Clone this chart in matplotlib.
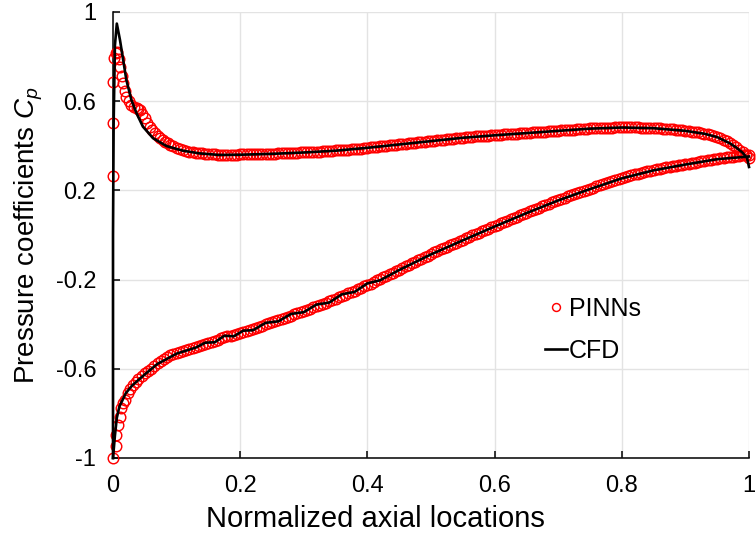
import matplotlib
matplotlib.use("Agg")
import matplotlib.pyplot as plt
import numpy as np

plt.rcParams['font.family'] = ['Liberation Sans', 'DejaVu Sans']
plt.rcParams['mathtext.fontset'] = 'custom'
plt.rcParams['mathtext.rm'] = 'Liberation Sans'
plt.rcParams['mathtext.it'] = 'Liberation Sans:italic'

# ---------------- data ----------------
# PINNs, suction side: leading-edge cluster
pinn_up_le_x = [0.0, 0.0, 0.0, 0.001, 0.004, 0.006, 0.009, 0.011, 0.014, 0.016, 0.019,
                0.021, 0.025, 0.029, 0.033, 0.037, 0.040, 0.042, 0.046, 0.050, 0.054,
                0.058, 0.062, 0.066, 0.070, 0.074, 0.078, 0.082, 0.086, 0.090, 0.095]
pinn_up_le_cp = [0.266, 0.501, 0.687, 0.792, 0.815, 0.822, 0.790, 0.755, 0.715, 0.680, 0.645,
                 0.620, 0.600, 0.583, 0.575, 0.568, 0.564, 0.561, 0.542, 0.523, 0.504,
                 0.486, 0.470, 0.456, 0.445, 0.435, 0.426, 0.418, 0.411, 0.405, 0.397]
# PINNs, suction side: x = 0.100 ... 1.000 every 0.005
pinn_up_cp = [0.390, 0.385, 0.380, 0.377, 0.374, 0.371, 0.369, 0.367, 0.366, 0.364,
              0.363, 0.362, 0.361, 0.360, 0.360, 0.359, 0.359, 0.359, 0.359, 0.360,
              0.361, 0.361, 0.362, 0.362, 0.362, 0.363, 0.363, 0.363, 0.364, 0.364,
              0.365, 0.365, 0.366, 0.366, 0.367, 0.367, 0.368, 0.368, 0.369, 0.370,
              0.371, 0.371, 0.372, 0.373, 0.374, 0.374, 0.375, 0.376, 0.377, 0.378,
              0.379, 0.380, 0.381, 0.382, 0.383, 0.384, 0.385, 0.386, 0.387, 0.389,
              0.392, 0.393, 0.395, 0.396, 0.398, 0.399, 0.401, 0.402, 0.404, 0.405,
              0.407, 0.408, 0.410, 0.411, 0.413, 0.414, 0.416, 0.417, 0.419, 0.420,
              0.422, 0.423, 0.425, 0.426, 0.428, 0.429, 0.431, 0.432, 0.434, 0.435,
              0.437, 0.438, 0.440, 0.441, 0.442, 0.443, 0.444, 0.445, 0.446, 0.447,
              0.448, 0.449, 0.450, 0.451, 0.452, 0.453, 0.454, 0.455, 0.456, 0.457,
              0.458, 0.459, 0.460, 0.461, 0.462, 0.463, 0.464, 0.465, 0.466, 0.467,
              0.468, 0.469, 0.470, 0.471, 0.472, 0.473, 0.474, 0.475, 0.476, 0.477,
              0.478, 0.479, 0.480, 0.480, 0.481, 0.481, 0.482, 0.482, 0.483, 0.483,
              0.483, 0.483, 0.483, 0.483, 0.483, 0.483, 0.482, 0.482, 0.481, 0.481,
              0.480, 0.479, 0.478, 0.477, 0.476, 0.475, 0.474, 0.472, 0.471, 0.470,
              0.468, 0.466, 0.464, 0.462, 0.460, 0.458, 0.455, 0.452, 0.448, 0.444,
              0.440, 0.434, 0.428, 0.420, 0.412, 0.403, 0.393, 0.382, 0.370, 0.358,
              0.345]

# PINNs, pressure side: leading-edge cluster
pinn_lo_le_x = [0.0, 0.004, 0.005, 0.008, 0.011, 0.013, 0.016, 0.019, 0.023, 0.027,
                0.031, 0.036, 0.040, 0.045, 0.050, 0.055]
pinn_lo_le_cp = [-1.0, -0.945, -0.897, -0.852, -0.815, -0.777, -0.755, -0.740, -0.710, -0.690,
                 -0.673, -0.658, -0.645, -0.632, -0.620, -0.610]
# PINNs, pressure side: x = 0.060 ... 1.000 every 0.005
pinn_lo_cp = [-0.600, -0.587, -0.575, -0.565, -0.556, -0.548, -0.540, -0.535,
              -0.530, -0.525, -0.520, -0.515, -0.510, -0.506, -0.503, -0.499, -0.495, -0.490,
              -0.485, -0.480, -0.475, -0.469, -0.463, -0.459, -0.455, -0.451, -0.448, -0.444,
              -0.441, -0.436, -0.431, -0.426, -0.421, -0.416, -0.411, -0.406, -0.401, -0.396,
              -0.391, -0.386, -0.381, -0.376, -0.371, -0.366, -0.361, -0.356, -0.351, -0.346,
              -0.340, -0.335, -0.330, -0.325, -0.319, -0.314, -0.308, -0.303, -0.297, -0.291,
              -0.285, -0.279, -0.273, -0.267, -0.261, -0.255, -0.249, -0.243, -0.236, -0.230,
              -0.224, -0.218, -0.211, -0.204, -0.197, -0.190, -0.183, -0.176, -0.169, -0.162,
              -0.155, -0.148, -0.141, -0.134, -0.127, -0.120, -0.113, -0.106, -0.099, -0.092,
              -0.085, -0.078, -0.072, -0.065, -0.059, -0.052, -0.046, -0.040, -0.034, -0.028,
              -0.022, -0.015, -0.009, -0.002, 0.004, 0.010, 0.016, 0.022, 0.028, 0.034,
              0.040, 0.046, 0.052, 0.058, 0.064, 0.070, 0.076, 0.082, 0.088, 0.094,
              0.100, 0.106, 0.112, 0.117, 0.123, 0.129, 0.135, 0.140, 0.146, 0.151,
              0.157, 0.162, 0.168, 0.173, 0.178, 0.183, 0.188, 0.193, 0.198, 0.203,
              0.208, 0.213, 0.218, 0.223, 0.228, 0.233, 0.238, 0.242, 0.247, 0.251,
              0.256, 0.260, 0.264, 0.268, 0.272, 0.275, 0.279, 0.282, 0.286, 0.289,
              0.292, 0.295, 0.298, 0.300, 0.303, 0.305, 0.308, 0.310, 0.313, 0.315,
              0.318, 0.320, 0.323, 0.325, 0.328, 0.330, 0.333, 0.335, 0.338, 0.340,
              0.342, 0.344, 0.346, 0.348, 0.350, 0.352, 0.354, 0.355, 0.357, 0.358,
              0.360]

# sampling grids of the PINNs evaluation points (every 0.005 of chord)
pinn_up_grid = np.round(np.linspace(0.100, 1.000, len(pinn_up_cp)), 3)
pinn_lo_grid = np.round(np.linspace(0.060, 1.000, len(pinn_lo_cp)), 3)

# CFD, suction side (starts at leading edge bottom, rises to the peak)
cfd_up_x = [0.0, 0.0, 0.001, 0.003, 0.006, 0.011, 0.016, 0.021, 0.029, 0.037, 0.047,
            0.063, 0.084, 0.11, 0.136, 0.167, 0.20, 0.25, 0.30, 0.35, 0.40, 0.45,
            0.50, 0.55, 0.60, 0.65, 0.70, 0.75, 0.80, 0.85, 0.90, 0.93, 0.95,
            0.97, 0.98, 0.99, 0.997, 1.0]
cfd_up_cp = [-1.0, 0.0, 0.50, 0.85, 0.948, 0.874, 0.785, 0.695, 0.605, 0.546, 0.486,
             0.434, 0.399, 0.378, 0.366, 0.359, 0.360, 0.364, 0.370, 0.378, 0.391, 0.406,
             0.421, 0.436, 0.447, 0.457, 0.467, 0.477, 0.482, 0.479, 0.467, 0.454, 0.439,
             0.411, 0.392, 0.369, 0.345, 0.305]

# CFD, pressure side (small ripples between x = 0.14 and 0.42)
cfd_lo_x = [0.0, 0.003, 0.006, 0.01, 0.02, 0.03, 0.05, 0.07, 0.10, 0.13,
            0.145, 0.16, 0.175, 0.19, 0.205, 0.22, 0.24, 0.26, 0.28, 0.30,
            0.32, 0.34, 0.36, 0.38, 0.40, 0.42, 0.45, 0.50, 0.55, 0.60,
            0.65, 0.70, 0.75, 0.80, 0.85, 0.90, 0.95, 1.0]
cfd_lo_cp = [-1.0, -0.90, -0.82, -0.77, -0.71, -0.675, -0.625, -0.578, -0.532, -0.505,
             -0.483, -0.481, -0.452, -0.454, -0.429, -0.427, -0.394, -0.387, -0.354, -0.346,
             -0.312, -0.303, -0.266, -0.255, -0.217, -0.203, -0.157, -0.087, -0.024, 0.038,
             0.098, 0.155, 0.206, 0.254, 0.290, 0.316, 0.340, 0.352]

x_ticks = [0, 0.2, 0.4, 0.6, 0.8, 1]
x_tick_labels = ['0', '0.2', '0.4', '0.6', '0.8', '1']
y_ticks = [-1, -0.6, -0.2, 0.2, 0.6, 1]
y_tick_labels = ['-1', '-0.6', '-0.2', '0.2', '0.6', '1']

# ---------------- figure ----------------
fig = plt.figure(figsize=(7.56, 5.46), dpi=100)
ax = fig.add_axes([113/756, 1 - 458/546, (749-113)/756, (458-12)/546])

ax.grid(True, color='#e3e3e3', linewidth=1.0, zorder=0)
ax.set_axisbelow(True)

red = '#ff0000'
mk = dict(linestyle='none', marker='o', markersize=7.6, markerfacecolor='none',
          markeredgecolor=red, markeredgewidth=1.05, zorder=3, clip_on=False)
ax.plot(list(pinn_up_le_x) + list(pinn_up_grid), pinn_up_le_cp + pinn_up_cp,
        label='PINNs', **mk)
ax.plot(list(pinn_lo_le_x) + list(pinn_lo_grid), pinn_lo_le_cp + pinn_lo_cp, **mk)
ax.plot(cfd_up_x, cfd_up_cp, color='black', linewidth=1.9, label='CFD', zorder=4,
        clip_on=False, solid_joinstyle='round')
ax.plot(cfd_lo_x, cfd_lo_cp, color='black', linewidth=1.9, zorder=4, clip_on=False,
        solid_joinstyle='round')

ax.set_xlim(0, 1)
ax.set_ylim(-1, 1)
ax.set_xticks(x_ticks)
ax.set_xticklabels(x_tick_labels)
ax.set_yticks(y_ticks)
ax.set_yticklabels(y_tick_labels)

for s in ['top', 'right']:
    ax.spines[s].set_visible(False)
for s in ['left', 'bottom']:
    ax.spines[s].set_linewidth(1.1)
    ax.spines[s].set_color('black')

ax.tick_params(direction='in', length=5, width=1.1, labelsize=17, pad=12,
               colors='black')

ax.set_xlabel('Normalized axial locations', fontsize=21)
ax.xaxis.set_label_coords((375 - 113) / 636, -0.105)
ax.set_ylabel('Pressure coefficients $C_p$', fontsize=20, labelpad=8)

leg = ax.legend(loc='upper left', bbox_to_anchor=(0.679, 0.362), frameon=False,
                fontsize=18, handlelength=0.9, handletextpad=0.05, labelspacing=0.72,
                borderpad=0, borderaxespad=0, markerscale=0.75)

fig.savefig('out.png', dpi=100)
